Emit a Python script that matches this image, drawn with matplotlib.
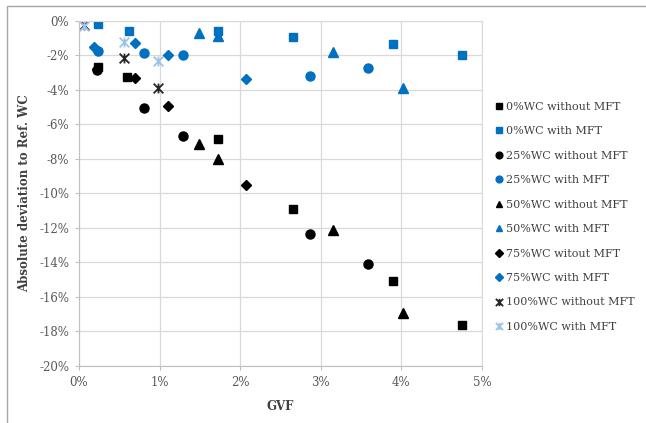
#!/usr/bin/env python3
# -*- coding: utf-8 -*-

import matplotlib
matplotlib.use("Agg")
import matplotlib.pyplot as plt
from matplotlib.path import Path
from matplotlib.patches import Rectangle

# GVF in %, deviation in %
sq_black_x = [0.24, 0.60, 1.73, 2.65, 3.90, 4.75]
sq_black_y = [-2.65, -3.27, -6.83, -10.9, -15.06, -17.6]
sq_blue_x = [0.24, 0.62, 1.73, 2.65, 3.90, 4.75]
sq_blue_y = [-0.19, -0.56, -0.58, -0.91, -1.33, -1.97]

ci_black_x = [0.22, 0.81, 1.29, 2.86, 3.59]
ci_black_y = [-2.86, -5.03, -6.65, -12.34, -14.1]
ci_blue_x = [0.23, 0.81, 1.29, 2.86, 3.59]
ci_blue_y = [-1.74, -1.87, -1.99, -3.19, -2.73]

tr_black_x = [1.49, 1.73, 3.15, 4.02]
tr_black_y = [-7.13, -8.0, -12.12, -16.9]
tr_blue_x = [1.49, 1.73, 3.15, 4.02]
tr_blue_y = [-0.68, -0.85, -1.78, -3.87]

di_black_x = [0.22, 0.69, 1.10, 2.07]
di_black_y = [-2.8, -3.33, -4.93, -9.49]
di_blue_x = [0.18, 0.69, 1.10, 2.07]
di_blue_y = [-1.49, -1.26, -1.99, -3.38]

st_black_x = [0.06, 0.56, 0.98]
st_black_y = [-0.23, -2.13, -3.9]
st_blue_x = [0.06, 0.56, 0.98]
st_blue_y = [-0.3, -1.24, -2.32]

x_ticks = [0, 1, 2, 3, 4, 5]
x_labels = ["0%", "1%", "2%", "3%", "4%", "5%"]
y_ticks = [0, -2, -4, -6, -8, -10, -12, -14, -16, -18, -20]
y_labels = ["0%", "-2%", "-4%", "-6%", "-8%", "-10%", "-12%",
            "-14%", "-16%", "-18%", "-20%"]

BLUE = "#0070C0"
LIGHT = "#9DC3E6"

# excel style star: X with a vertical bar
star = Path([(-1, -1), (1, 1), (-1, 1), (1, -1), (0, -1), (0, 1)],
            [Path.MOVETO, Path.LINETO, Path.MOVETO, Path.LINETO,
             Path.MOVETO, Path.LINETO])


def main():
    plt.rcParams['font.family'] = ['DejaVu Serif']
    fig = plt.figure(figsize=(6.46, 4.23), dpi=100)
    fig.patches.append(Rectangle((7 / 646, -0.1), 2, 1.1 - 6 / 423,
                                 transform=fig.transFigure, fill=False,
                                 edgecolor="#A6A6A6", linewidth=1))
    ax = fig.add_axes([0.1223, 0.1348, 0.6238, 0.8156])

    ax.plot(sq_black_x, sq_black_y, 's', color='black', ms=5.5, ls='none',
            label="0%WC without MFT")
    ax.plot(sq_blue_x, sq_blue_y, 's', color=BLUE, ms=5.5, ls='none',
            label="0%WC with MFT")
    ax.plot(ci_black_x, ci_black_y, 'o', color='black', ms=6.5, ls='none',
            label="25%WC without MFT")
    ax.plot(ci_blue_x, ci_blue_y, 'o', color=BLUE, ms=6.5, ls='none',
            label="25%WC with MFT")
    ax.plot(tr_black_x, tr_black_y, '^', color='black', ms=6.5, ls='none',
            label="50%WC without MFT")
    ax.plot(tr_blue_x, tr_blue_y, '^', color=BLUE, ms=6.5, ls='none',
            label="50%WC with MFT")
    ax.plot(di_black_x, di_black_y, 'D', color='black', ms=5, ls='none',
            label="75%WC witout MFT")
    ax.plot(di_blue_x, di_blue_y, 'D', color=BLUE, ms=5, ls='none',
            label="75%WC with MFT")
    ax.plot(st_black_x, st_black_y, marker=star, color='#262626', ms=7,
            mew=1.3, ls='none', label="100%WC without MFT")
    ax.plot(st_blue_x, st_blue_y, marker=star, color=LIGHT, ms=7,
            mew=1.3, ls='none', label="100%WC with MFT")

    ax.set_xlim(0, 5)
    ax.set_ylim(-20, 0)
    ax.set_xticks(x_ticks)
    ax.set_xticklabels(x_labels)
    ax.set_yticks(y_ticks)
    ax.set_yticklabels(y_labels)
    ax.tick_params(labelsize=8.5, colors='#595959', length=3,
                   color='#BFBFBF', pad=4)
    ax.grid(True, color='#D9D9D9', linewidth=0.9)
    ax.set_axisbelow(True)
    for s in ax.spines.values():
        s.set_color('#D9D9D9')
    ax.spines['left'].set_color('#BFBFBF')
    ax.spines['bottom'].set_color('#BFBFBF')

    ax.set_xlabel("GVF", fontsize=8.5, fontweight='bold', color='#404040',
                  labelpad=8)
    ax.set_ylabel("Absolute deviation to Ref. WC", fontsize=8.5,
                  fontweight='bold', color='#404040', labelpad=6)

    leg = ax.legend(loc='center left', bbox_to_anchor=(1.01, 0.432),
                    frameon=False, fontsize=8, handlelength=0.5,
                    handletextpad=0.4, labelspacing=1.3, markerscale=0.75)
    for t in leg.get_texts():
        t.set_color('#404040')

    fig.savefig("out.png", dpi=100)


if __name__ == '__main__':
    main()
